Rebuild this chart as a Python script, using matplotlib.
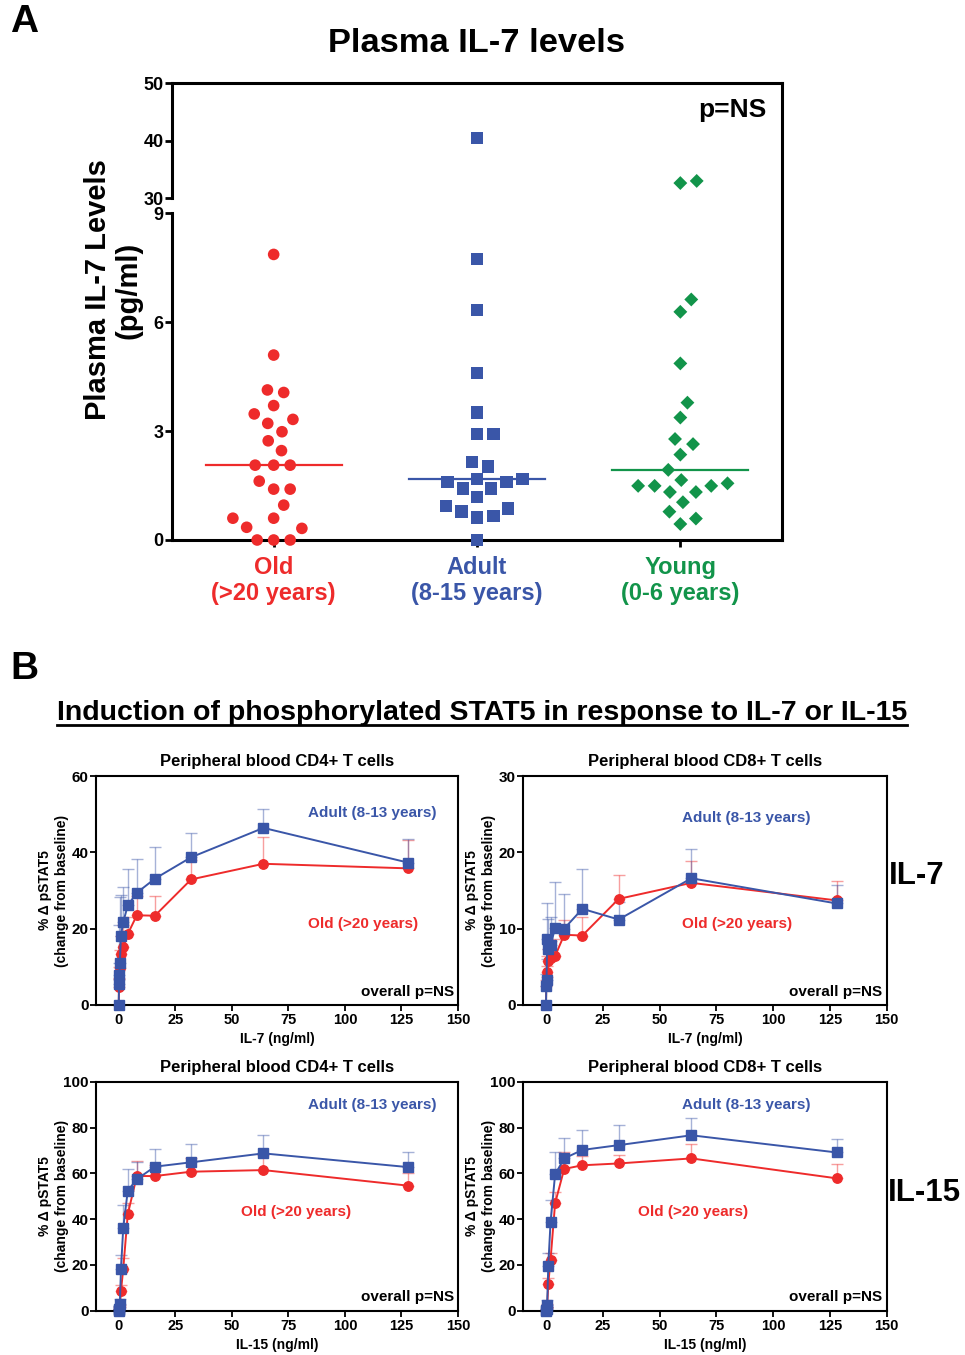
import numpy as np
import matplotlib
matplotlib.use("Agg")
import matplotlib.pyplot as plt
from matplotlib.lines import Line2D
import matplotlib.transforms as mtransforms

plt.rcParams['font.family'] = ['Liberation Sans', 'DejaVu Sans']
plt.rcParams['font.weight'] = 'bold'
plt.rcParams['axes.labelweight'] = 'bold'

RED = "#EE2B2B"
BLUE = "#3A56A8"
GREEN = "#12944A"

# ---------------- Panel A data (pg/ml) ----------------
groups = ["Old", "Adult", "Young"]
group_ages = ["(>20 years)", "(8-15 years)", "(0-6 years)"]
old_il7 = [7.86, 5.09, 4.06, 4.13, 3.70, 3.47, 3.21, 3.32, 2.98, 2.73, 2.46,
           2.06, 2.06, 2.06, 1.62, 1.40, 1.40, 0.96, 0.60, 0.60, 0.35, 0.32,
           0.0, 0.0, 0.0]
adult_il7 = [40.4, 7.74, 6.33, 4.59, 3.51, 2.91, 2.91, 2.14, 2.02, 1.68, 1.68,
             1.59, 1.59, 1.42, 1.42, 1.19, 0.94, 0.87, 0.78, 0.66, 0.62, 0.0]
young_il7 = [32.97, 32.6, 6.62, 6.28, 4.86, 3.78, 3.37, 2.78, 2.64, 2.35, 1.93,
             1.65, 1.56, 1.49, 1.49, 1.49, 1.32, 1.32, 1.04, 0.78, 0.59, 0.44]
medians = [2.06, 1.68, 1.93]

# ---------------- Panel B data (% delta pSTAT5) ----------------
doses = [0, 0.125, 0.25, 0.5, 1, 2, 4, 8, 16, 32, 64, 128]

cd4_il7_adult = [0, 5.5, 7.9, 11.1, 18.2, 21.7, 26.1, 29.4, 33.1, 38.7, 46.4, 37.3]
cd4_il7_adult_err = [0, 5.5, 13.1, 17.3, 10.6, 9.3, 9.5, 8.8, 8.4, 6.3, 4.9, 6.3]
cd4_il7_old = [0, 4.6, 6.8, 9.6, 13.3, 15.1, 18.6, 23.5, 23.4, 32.9, 37.0, 35.8]
cd4_il7_old_err = [0, 2.4, 3.2, 4.9, 4.7, 5.9, 4.5, 5.1, 5.2, 5.1, 7.1, 7.4]

cd8_il7_adult = [0, 2.5, 3.3, 8.6, 7.4, 7.8, 10.1, 10.0, 12.6, 11.2, 16.6, 13.3]
cd8_il7_adult_err = [0, 1.5, 2.7, 4.7, 3.9, 3.7, 6.0, 4.5, 5.2, 2.3, 3.9, 2.4]
cd8_il7_old = [0, 2.5, 3.7, 4.3, 5.7, 6.1, 6.4, 9.2, 9.1, 13.9, 16.0, 13.7]
cd8_il7_old_err = [0, 0.8, 1.4, 2.1, 1.6, 2.3, 2.2, 2.0, 2.4, 3.1, 2.8, 2.5]

cd4_il15_adult = [0, 0.3, 0.9, 3.0, 18.3, 36.2, 52.4, 57.4, 62.9, 64.8, 68.7, 62.7]
cd4_il15_adult_err = [0, 0.5, 1.0, 2.0, 6.0, 9.9, 9.3, 7.7, 7.9, 8.0, 7.9, 6.6]
cd4_il15_old = [0, 0.3, 0.8, 1.5, 8.6, 18.3, 42.1, 58.8, 58.8, 60.7, 61.4, 54.6]
cd4_il15_old_err = [0, 0.4, 0.8, 1.2, 2.5, 4.6, 4.8, 6.7, 5.0, 5.8, 6.6, 5.7]

cd8_il15_adult = [0, 0.3, 0.8, 2.5, 19.7, 38.7, 59.5, 66.5, 70.2, 72.3, 76.6, 69.1]
cd8_il15_adult_err = [0, 0.5, 1.0, 2.0, 5.6, 9.6, 9.8, 8.8, 8.5, 8.6, 7.7, 6.0]
cd8_il15_old = [0, 0.4, 1.0, 1.8, 11.6, 22.3, 46.9, 61.9, 63.5, 64.3, 66.5, 57.8]
cd8_il15_old_err = [0, 0.5, 0.8, 1.2, 2.5, 3.0, 5.0, 7.2, 4.0, 3.5, 6.1, 6.1]

W, H = 965, 1355
fig = plt.figure(figsize=(W / 100, H / 100), dpi=100)


def fx(x):
    return x / W


def fy(y):
    return 1 - y / H


def px_axes(l, t, r, b):
    return [fx(l), fy(b), (r - l) / W, (b - t) / H]


# ---------------- Panel A ----------------
axA = fig.add_axes(px_axes(172, 83, 782, 540))
gap = 15 / 36.33
rr = 5.75 / 36.33


def fwd(y):
    y = np.asarray(y, dtype=float)
    return np.where(y <= 9, y, np.where(y >= 30, 9 + gap + (y - 30) * rr,
                                        9 + (y - 9) / 21 * gap))


def inv(t):
    t = np.asarray(t, dtype=float)
    return np.where(t <= 9, t, np.where(t >= 9 + gap, 30 + (t - 9 - gap) / rr,
                                        9 + (t - 9) * 21 / gap))


axA.set_yscale('function', functions=(fwd, inv))
axA.set_xlim(-0.5, 2.5)
axA.set_ylim(0, 50)
axA.set_yticks([0, 3, 6, 9, 30, 40, 50])
axA.set_yticklabels(["0", "3", "6", "9", "30", "40", "50"])
axA.set_xticks([0, 1, 2])
axA.set_xticklabels([])
axA.tick_params(axis='both', direction='out', length=5, width=2, labelsize=13, pad=1)
axA.yaxis.set_minor_locator(matplotlib.ticker.NullLocator())
for s in ['top', 'right', 'bottom']:
    axA.spines[s].set_linewidth(2.2)
axA.spines['left'].set_visible(False)
blend = mtransforms.blended_transform_factory(axA.transAxes, axA.transData)
axA.add_line(Line2D([0, 0], [0, 9], transform=blend, color='k', lw=2.2, clip_on=False))
axA.add_line(Line2D([0, 0], [30, 50], transform=blend, color='k', lw=2.2, clip_on=False))

fig.canvas.draw()


def swarm(values, center, d):
    ypx = axA.transData.transform(np.column_stack([np.zeros(len(values)), values]))[:, 1]
    cpx = axA.transData.transform([(center, 0)])[0, 0]
    order = np.argsort(ypx, kind='stable')
    placed = []
    xs = np.zeros(len(values))
    for i in order:
        y = ypx[i]
        cands = [0.0]
        for (qx, qy) in placed:
            dy = y - qy
            if abs(dy) < d:
                dx = np.sqrt(d * d - dy * dy)
                cands += [qx + dx, qx - dx]
        cands.sort(key=lambda c: (abs(c), -c))
        for c in cands:
            if all((c - qx) ** 2 + (y - qy) ** 2 >= d * d - 1e-6 for qx, qy in placed):
                xs[i] = c
                break
        placed.append((xs[i], y))
    pts = axA.transData.inverted().transform(np.column_stack([cpx + xs, ypx]))
    return pts[:, 0]


series_A = [(old_il7, RED, 'o', 70), (adult_il7, BLUE, 's', 80), (young_il7, GREEN, 'D', 50)]
for k, (vals, col, mk, sz) in enumerate(series_A):
    xs = swarm(vals, k, 16.5)
    axA.scatter(xs, vals, s=sz, marker=mk, color=col, edgecolors='none', zorder=3, clip_on=False)
    axA.plot([k - 0.335, k + 0.335], [medians[k], medians[k]], color=col, lw=1.6, zorder=2)
    axA.text(k, -0.034, groups[k] + "\n" + group_ages[k], transform=axA.get_xaxis_transform(),
             ha='center', va='top', fontsize=17, color=col, linespacing=1.22)

axA.text(0.975, 0.94, "p=NS", transform=axA.transAxes, ha='right', va='center', fontsize=19)
fig.text(fx(113), fy(290), "Plasma IL-7 Levels\n(pg/ml)", rotation=90, ha='center',
         va='center', fontsize=21, linespacing=1.1)
fig.text(fx(476), fy(43), "Plasma IL-7 levels", ha='center', va='center', fontsize=24.8)
fig.text(fx(10), fy(22), "A", ha='left', va='center', fontsize=28)

# ---------------- Panel B ----------------
fig.text(fx(10), fy(669), "B", ha='left', va='center', fontsize=28)
tB = fig.text(fx(482), fy(713), "Induction of phosphorylated STAT5 in response to IL-7 or IL-15",
              ha='center', va='center', fontsize=20.5)
fig.canvas.draw()
bb = tB.get_window_extent(fig.canvas.get_renderer())
uy = (bb.y0 + 1) / H
fig.add_artist(Line2D([bb.x0 / W, bb.x1 / W], [uy, uy], color='k', lw=2))

panels = [
    (px_axes(96.1, 776, 458, 1005), "Peripheral blood CD4+ T cells", (0, 60), [0, 20, 40, 60],
     cd4_il7_adult, cd4_il7_adult_err, cd4_il7_old, cd4_il7_old_err, "IL-7 (ng/ml)",
     (0.586, 0.838), (0.586, 0.354)),
    (px_axes(523.3, 776, 886.7, 1005), "Peripheral blood CD8+ T cells", (0, 30), [0, 10, 20, 30],
     cd8_il7_adult, cd8_il7_adult_err, cd8_il7_old, cd8_il7_old_err, "IL-7 (ng/ml)",
     (0.4375, 0.817), (0.4375, 0.354)),
    (px_axes(96.1, 1081.7, 458, 1310.7), "Peripheral blood CD4+ T cells", (0, 100),
     [0, 20, 40, 60, 80, 100], cd4_il15_adult, cd4_il15_adult_err, cd4_il15_old,
     cd4_il15_old_err, "IL-15 (ng/ml)", (0.586, 0.898), (0.40, 0.431)),
    (px_axes(523.3, 1081.7, 886.7, 1310.7), "Peripheral blood CD8+ T cells", (0, 100),
     [0, 20, 40, 60, 80, 100], cd8_il15_adult, cd8_il15_adult_err, cd8_il15_old,
     cd8_il15_old_err, "IL-15 (ng/ml)", (0.4375, 0.898), (0.316, 0.431)),
]

for (pos, title, ylim, yticks, ad, ade, od, ode, xlabel, apos, opos) in panels:
    ax = fig.add_axes(pos)
    ax.set_xlim(-10, 150)
    ax.set_ylim(*ylim)
    ax.set_xticks([0, 25, 50, 75, 100, 125, 150])
    ax.set_yticks(yticks)
    ax.tick_params(axis='both', direction='out', length=4, width=1.3, pad=2)
    ax.tick_params(axis='x', labelsize=10.5)
    ax.tick_params(axis='y', labelsize=11, pad=1.5)
    for s in ax.spines.values():
        s.set_linewidth(1.5)
    for vals, err, col, mk in [(od, ode, RED, 'o'), (ad, ade, BLUE, 's')]:
        ax.errorbar(doses, vals, yerr=[np.zeros(len(err)), err], fmt='none', ecolor=col,
                    elinewidth=1, capsize=4, capthick=1, alpha=0.45, zorder=2, clip_on=False)
        ax.plot(doses, vals, color=col, lw=1.4, marker=mk, markersize=6.8, zorder=3,
                clip_on=False)
    ax.text(0.5, 1.062, title, transform=ax.transAxes, ha='center', va='center', fontsize=12)
    ax.text(apos[0], apos[1], "Adult (8-13 years)", transform=ax.transAxes, ha='left',
            va='center', fontsize=11, color=BLUE)
    ax.text(opos[0], opos[1], "Old (>20 years)", transform=ax.transAxes, ha='left',
            va='center', fontsize=11, color=RED)
    ax.text(0.988, 0.058, "overall p=NS", transform=ax.transAxes, ha='right', va='center',
            fontsize=11)
    ax.text(-0.118, 0.5, "% \u0394 pSTAT5\n(change from baseline)", transform=ax.transAxes,
            rotation=90, ha='center', va='center', fontsize=10, linespacing=1.25)
    ax.text(0.5, -0.15, xlabel, transform=ax.transAxes, ha='center', va='center', fontsize=10)

fig.text(fx(889), fy(876), "IL-7", ha='left', va='center', fontsize=22.5)
fig.text(fx(888), fy(1193), "IL-15", ha='left', va='center', fontsize=22.5)

fig.savefig("out.png", dpi=100)
